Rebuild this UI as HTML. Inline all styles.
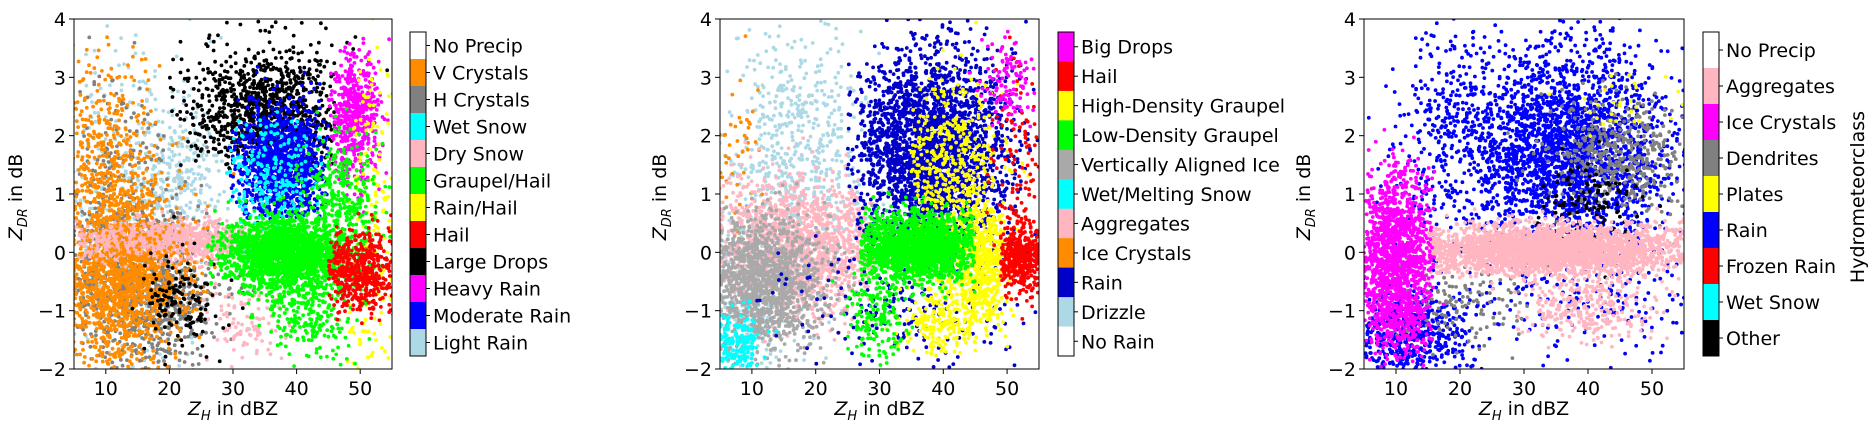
<!DOCTYPE html>
<html><head><meta charset="utf-8"><style>
html,body{margin:0;padding:0;background:#fff;width:1872px;height:432px;overflow:hidden;}
svg{display:block;font-family:"DejaVu Sans","Liberation Sans",sans-serif;}
</style></head><body>
<svg id="s" width="1872" height="432" xmlns="http://www.w3.org/2000/svg"></svg>
<script>
const NS="http://www.w3.org/2000/svg";
const S=document.getElementById('s');
let seed=12345;
function rnd(){seed=(seed*1664525+1013904223)>>>0;return seed/4294967296;}
function gauss(){let u=rnd()||1e-9,v=rnd();return Math.sqrt(-2*Math.log(u))*Math.cos(2*Math.PI*v);}
function el(t,a,p){const e=document.createElementNS(NS,t);for(const k in a)e.setAttribute(k,a[k]);(p||S).appendChild(e);return e;}
const T=19,H=350;
function plot(idx,L,R,clusters,cbX,labels,colors,ylabX){
  const W=R-L;
  const cp=el('clipPath',{id:'c'+idx});el('rect',{x:L,y:T,width:W,height:H},cp);
  const g=el('g',{'clip-path':'url(#c'+idx+')'});
  for(const c of clusters){
    const [col,n0,mx,sx,my,sy,xmin,xmax,ymin]=c;
    const n=Math.round(n0*0.7);
    let d='';
    for(let i=0;i<n;i++){
      let x=mx+sx*gauss(),y=my+sy*gauss();
      if(xmin!==undefined&&x<xmin)continue;
      if(xmax!==undefined&&x>xmax)continue;
      if(ymin!==undefined&&y<ymin)continue;
      const px=L+(x-5)/50*W,py=T+(4-y)/6*H;
      d+='M'+px.toFixed(1)+' '+py.toFixed(1)+'h0';
    }
    el('path',{d:d,stroke:col,'stroke-width':3.8,'stroke-linecap':'round',fill:'none'},g);
  }
  el('rect',{x:L,y:T,width:W,height:H,fill:'none',stroke:'#000','stroke-width':1});
  for(let v=10;v<=50;v+=10){const px=L+(v-5)/50*W;
    el('line',{x1:px,y1:T+H,x2:px,y2:T+H+5,stroke:'#000'});
    el('text',{x:px,y:T+H+26,'font-size':19,'text-anchor':'middle'}).textContent=v;}
  for(let v=-2;v<=4;v++){const py=T+(4-v)/6*H;
    el('line',{x1:L-5,y1:py,x2:L,y2:py,stroke:'#000'});
    el('text',{x:L-8,y:py+7,'font-size':19,'text-anchor':'end'}).textContent=(v<0?'\u2212'+(-v):v);}
  const xl=el('text',{x:(L+R)/2,y:415,'font-size':19,'text-anchor':'middle'});
  xl.innerHTML='<tspan font-style="italic">Z</tspan><tspan font-size="13" font-style="italic" dy="5">H</tspan><tspan dy="-5"> in dBZ</tspan>';
  const yl=el('text',{x:0,y:0,'font-size':19,'text-anchor':'middle',transform:'translate('+ylabX+',197) rotate(-90)'});
  yl.innerHTML='<tspan font-style="italic">Z</tspan><tspan font-size="13" font-style="italic" dy="5">DR</tspan><tspan dy="-5"> in dB</tspan>';
  const n=labels.length,ct=32,cb=356,sh=(cb-ct)/n;
  for(let i=0;i<n;i++){
    el('rect',{x:cbX,y:ct+i*sh,width:16,height:sh+0.5,fill:colors[i]});
    const yy=ct+(i+0.5)*sh;
    el('line',{x1:cbX+16,y1:yy,x2:cbX+20,y2:yy,stroke:'#000'});
    el('text',{x:cbX+23,y:yy+7,'font-size':19}).textContent=labels[i];
  }
  el('rect',{x:cbX,y:ct,width:16,height:cb-ct,fill:'none',stroke:'#000','stroke-width':1});
}
const lb='#add8e6',or='#ff8c00',gr='#808080',pk='#ffb6c1',gn='#00ff00',ye='#ffff00',rd='#ff0000',bk='#000000',mg='#ff00ff',bl='#0000ff',cy='#00ffff';
plot(1,74,392,[
 [lb,700,13,7,0.5,1.6],[lb,300,22,3,1.3,0.5],
 [gr,1400,16,6,-0.6,0.7],[gr,300,12,4,1.2,1.0],
 [or,2000,12,5,-0.4,0.8],[or,600,10,4,1.6,1.0],
 [pk,1300,20,8,0.2,0.16,5,36],[pk,150,32,3,-1.2,0.35],
 [or,500,14,6,-0.3,0.5,5,27],
 [bk,1500,35,6,2.4,0.5,20,46,1.4],[bk,200,22,3,-0.9,0.4],[bk,60,35,9,3.6,0.3],
 [bl,1800,38,3.5,1.5,0.5,29,45,0.5],[cy,350,36,4,1.2,0.55,29,45],
 [mg,800,49,2,2.3,0.55,45],[ye,300,52,2,0.2,1.5,48],
 [gn,2800,38,4.5,0,0.3,26],[gn,500,42,4,-0.8,0.5],[gn,500,47,3,0.8,0.6],
 [rd,800,50,3,-0.3,0.35,45]
],410,['No Precip','V Crystals','H Crystals','Wet Snow','Dry Snow','Graupel/Hail','Rain/Hail','Hail','Large Drops','Heavy Rain','Moderate Rain','Light Rain'],
['#ffffff',or,gr,cy,pk,gn,ye,rd,bk,mg,bl,lb],22);
const db='#0000c8',ag='#a9a9a9';
plot(2,720,1039,[
 [lb,900,17,6,1.6,1.1],[lb,400,10,4,-1,0.8],[or,70,8,2,1.5,0.8],
 [pk,2300,18,7,0.1,0.55,5,29],
 [ag,2000,12,5,-0.5,0.55],[cy,300,7,2,-1.6,0.3],
 [db,4000,38,6,1.7,0.9,25,55,-0.3],[db,300,35,10,-0.9,0.5],
 [ye,700,41,4,1.4,0.8,35],[ye,900,46,2,-0.2,0.5],[ye,350,40,4,-1.1,0.3],
 [gn,2800,36,5,0.1,0.28,27,45],[gn,250,30,2.5,-1.1,0.4],
 [rd,700,52,2,-0.1,0.3,49],[rd,150,52,2,1.5,0.8],[mg,160,50,2,2.9,0.35]
],1058,['Big Drops','Hail','High-Density Graupel','Low-Density Graupel','Vertically Aligned Ice','Wet/Melting Snow','Aggregates','Ice Crystals','Rain','Drizzle','No Rain'],
[mg,rd,ye,gn,ag,cy,pk,or,db,lb,'#ffffff'],666);
plot(3,1364,1684,[
 [bl,3600,37,8,1.7,0.9],[bl,900,12,5,-1.4,0.4],[bl,450,18,4,2,1],[bl,250,40,12,-0.9,0.5],
 [gr,600,45,5,1.7,0.5],[gr,200,20,6,-0.8,0.4],[bk,160,40,4,0.8,0.4],
 [pk,4500,34,11,0.05,0.2,15],[pk,450,40,5,-0.9,0.3],
 [mg,2000,10,3,0,0.7,5,16],[mg,300,10,3,-1.2,0.3],[ye,40,45,6,2.6,0.3]
],1703,['No Precip','Aggregates','Ice Crystals','Dendrites','Plates','Rain','Frozen Rain','Wet Snow','Other'],
['#ffffff',pk,mg,gr,ye,bl,rd,cy,bk],1310);
el('text',{x:0,y:0,'font-size':19,'text-anchor':'middle',transform:'translate(1864,197) rotate(-90)'}).textContent='Hydrometeorclass';
</script>
</body></html>
